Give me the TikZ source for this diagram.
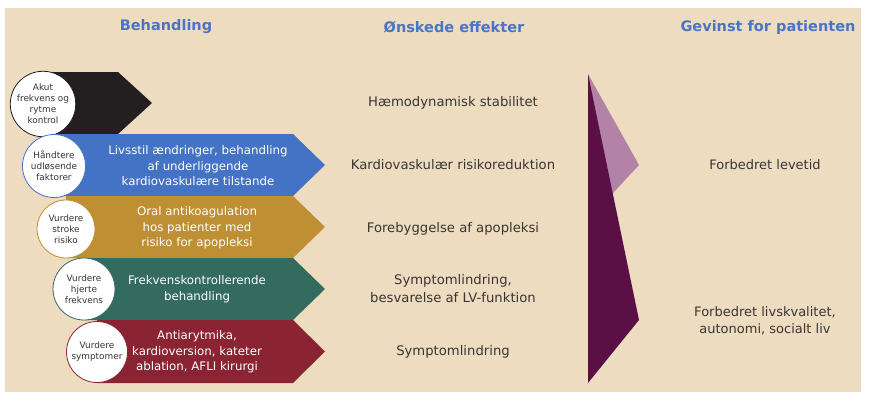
\documentclass[tikz,border=0pt]{standalone}
\usepackage{fontspec}
\setmainfont{DejaVu Sans}
\usetikzlibrary{shapes.geometric}
\definecolor{afBeige}{HTML}{EDDCC0}
\definecolor{afHead}{HTML}{4A74C4}
\definecolor{afText}{HTML}{3A3533}
\definecolor{afBlack}{HTML}{231F20}
\definecolor{afBlue}{HTML}{4472C4}
\definecolor{afGold}{HTML}{BF8F33}
\definecolor{afGreen}{HTML}{336B5F}
\definecolor{afRed}{HTML}{8A2433}
\definecolor{afPlum}{HTML}{5A0F45}
\definecolor{afPlumSoft}{HTML}{B283A6}

\begin{document}
\begin{tikzpicture}[x=1pt, y=-1pt,
    afHeading/.style={font=\fontsize{14.5}{16}\selectfont\bfseries, text=afHead},
    afArrowText/.style={text=white, align=center, font=\fontsize{11.8}{15.5}\selectfont},
    afBadge/.style={circle, fill=white, line width=0.8pt, inner sep=0pt, align=center, text=afText, font=\fontsize{8.9}{11}\selectfont},
    afEffect/.style={text=afText, align=center, font=\fontsize{13.2}{18}\selectfont},
    afGain/.style={text=afText, align=center, font=\fontsize{13}{17}\selectfont},
]
\useasboundingbox (0,0) rectangle (871,402);
\fill[afBeige] (5,8) rectangle (861,392);
% column headings
\node[afHeading] (hBehandling) at (166,27) {Behandling};
\node[afHeading] (hEffekter) at (454,27) {Ønskede effekter};
\node[afHeading] (hGevinst) at (768,27) {Gevinst for patienten};
% treatment arrows
\fill[afBlack] (43,72) -- (118,72) -- (152,103) -- (118,134) -- (43,134) -- cycle;
\fill[afBlue] (54,134) -- (293,134) -- (325,165) -- (293,196) -- (54,196) -- cycle;
\fill[afGold] (66,196) -- (293,196) -- (325,227) -- (293,258) -- (66,258) -- cycle;
\fill[afGreen] (84,258) -- (293,258) -- (325,289) -- (293,320) -- (84,320) -- cycle;
\fill[afRed] (97,320) -- (293,320) -- (325,351.5) -- (293,383) -- (97,383) -- cycle;
\node[afArrowText] (txtFaktorer) at (198,166) {Livsstil ændringer, behandling\\af underliggende\\kardiovaskulære tilstande};
\node[afArrowText] (txtStroke) at (197,228) {Oral antikoagulation\\hos patienter med\\risiko for apopleksi};
\node[afArrowText] (txtFrekvens) at (197,289) {Frekvenskontrollerende\\behandling};
\node[afArrowText] (txtSymptomer) at (197,352) {Antiarytmika,\\kardioversion, kateter\\ablation, AFLI kirurgi};
% badges
\node[afBadge, draw=afBlack, minimum size=62pt] (cirAkut) at (43,104) {Akut\\frekvens og\\rytme\\kontrol};
\node[afBadge, draw=afBlue, minimum size=63pt] (cirFaktorer) at (54,166) {Håndtere\\udløsende\\faktorer};
\node[afBadge, draw=afGold, minimum size=58pt] (cirStroke) at (66,229) {Vurdere\\stroke\\risiko};
\node[afBadge, draw=afGreen, minimum size=62pt] (cirFrekvens) at (84,289) {Vurdere\\hjerte\\frekvens};
\node[afBadge, draw=afRed, minimum size=61pt] (cirSymptomer) at (97,352) {Vurdere\\symptomer};
% desired effects
\node[afEffect] (effStabilitet) at (453,103) {Hæmodynamisk stabilitet};
\node[afEffect] (effRisiko) at (453,165) {Kardiovaskulær risikoreduktion};
\node[afEffect] (effApopleksi) at (453,229) {Forebyggelse af apopleksi};
\node[afEffect] (effLindring) at (453,289) {Symptomlindring,\\besvarelse af LV-funktion};
\node[afEffect] (effSymptom) at (453,352) {Symptomlindring};
% gain wedge
\fill[afPlumSoft] (588,74) -- (639,165) -- (588,220) -- cycle;
\fill[afPlum] (588,74) -- (639,320) -- (588,383) -- cycle;
\node[afGain] (gainLevetid) at (765,165) {Forbedret levetid};
\node[afGain] (gainKvalitet) at (765,321) {Forbedret livskvalitet,\\autonomi, socialt liv};
\end{tikzpicture}
\end{document}
